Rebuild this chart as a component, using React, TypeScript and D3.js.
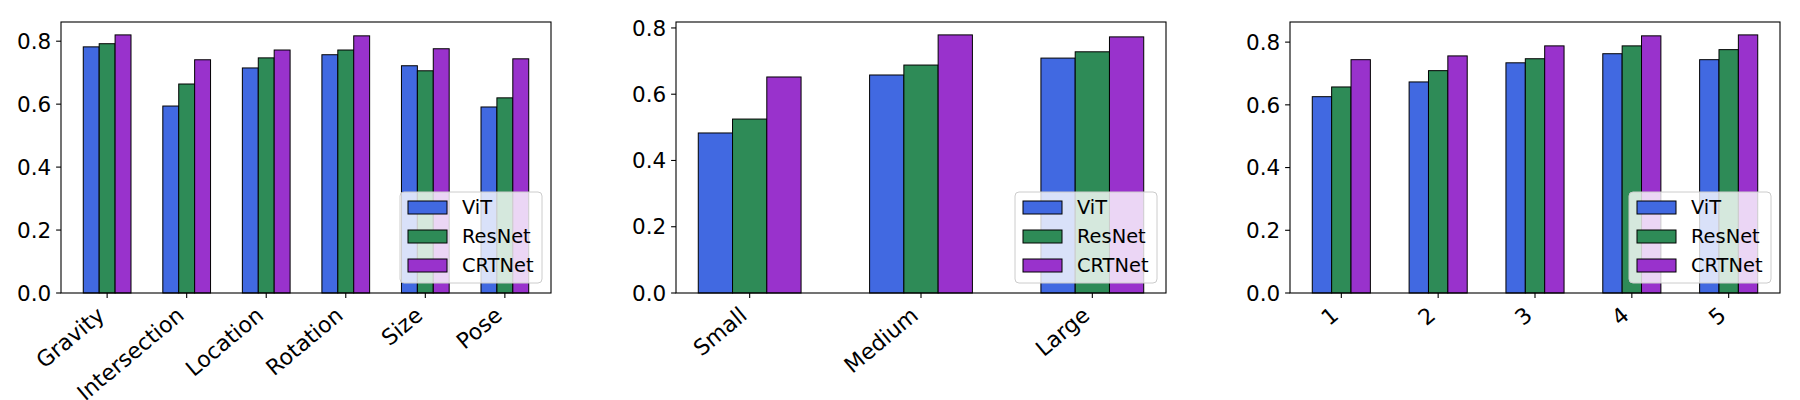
import * as d3 from 'd3';

const seriesNames = ['ViT', 'ResNet', 'CRTNet'];
const seriesColors = ['#4169e1', '#2e8b57', '#9932cc'];

const taskLabels = ['Gravity', 'Intersection', 'Location', 'Rotation', 'Size', 'Pose'];
const taskVit = [0.782, 0.594, 0.715, 0.757, 0.722, 0.591];
const taskResnet = [0.792, 0.664, 0.747, 0.772, 0.706, 0.62];
const taskCrtnet = [0.82, 0.741, 0.772, 0.817, 0.776, 0.744];

const sizeLabels = ['Small', 'Medium', 'Large'];
const sizeVit = [0.483, 0.658, 0.709];
const sizeResnet = [0.525, 0.688, 0.728];
const sizeCrtnet = [0.652, 0.779, 0.773];

const levelLabels = ['1', '2', '3', '4', '5'];
const levelVit = [0.626, 0.673, 0.734, 0.763, 0.744];
const levelResnet = [0.657, 0.709, 0.747, 0.788, 0.776];
const levelCrtnet = [0.744, 0.756, 0.788, 0.82, 0.823];

const W = 1800;
const H = 400;
const Y_FONT = 21.5;
const X_FONT = 22;
const LEG_FONT = 19.4;
const panelLeft = [61, 676, 1290];
const panelWidth = 490;
const top = 22;
const bottom = 293;
const barW = 0.2;
const tickLen = 4.9;
const tickPad = 4.9;
const rot = 40;

type PanelProps = {
  left: number;
  labels: string[];
  series: number[][];
};

function Panel({ left, labels, series }: PanelProps) {
  const n = labels.length;
  const lo = -1.5 * barW;
  const hi = n - 1 + 1.5 * barW;
  const mx = (hi - lo) * 0.05;
  const x = d3.scaleLinear().domain([lo - mx, hi + mx]).range([left, left + panelWidth]);
  const ymax = d3.max(series.flat()) as number;
  const y = d3.scaleLinear().domain([0, ymax * 1.05]).range([bottom, top]);
  const yTicks = y.ticks(5);
  const fmt = d3.format('.1f');

  // matplotlib-ish placement of rotated labels (ha=right, va=top)
  const s = Math.sin((rot * Math.PI) / 180);
  const c = Math.cos((rot * Math.PI) / 180);
  const asc = 0.76 * X_FONT;
  const desc = 0.23 * X_FONT;

  // legend, lower right
  const lgW = 142;
  const lgH = 91;
  const lgX = left + panelWidth - 9 - lgW;
  const lgY = bottom - 10 - lgH;

  return (
    <g>
      {series.map((vals, si) =>
        vals.map((v, i) => {
          const x0 = x(i + (si - 1) * barW - barW / 2);
          const x1 = x(i + (si - 1) * barW + barW / 2);
          return (
            <rect
              key={`${si}-${i}`}
              x={x0}
              y={y(v)}
              width={x1 - x0}
              height={y(0) - y(v)}
              fill={seriesColors[si]}
              stroke="#000"
              strokeWidth={1}
            />
          );
        })
      )}
      <rect x={left} y={top} width={panelWidth} height={bottom - top} fill="none" stroke="#000" strokeWidth={1.1} />
      {yTicks.map((t) => (
        <g key={t}>
          <line x1={left - tickLen} x2={left} y1={y(t)} y2={y(t)} stroke="#000" strokeWidth={1.1} />
          <text x={left - tickLen - tickPad} y={y(t)} dy="0.36em" textAnchor="end" fontSize={Y_FONT}>
            {fmt(t)}
          </text>
        </g>
      ))}
      {labels.map((lab, i) => {
        const tx = x(i);
        const ax = tx - desc * s + 2;
        const ay = bottom + tickLen + tickPad + asc * c + 2;
        return (
          <g key={lab}>
            <line x1={tx} x2={tx} y1={bottom} y2={bottom + tickLen} stroke="#000" strokeWidth={1.1} />
            <text x={ax} y={ay} textAnchor="end" fontSize={X_FONT} transform={`rotate(${-rot}, ${ax}, ${ay})`}>
              {lab}
            </text>
          </g>
        );
      })}
      <rect
        x={lgX}
        y={lgY}
        width={lgW}
        height={lgH}
        rx={4}
        fill="#fff"
        fillOpacity={0.8}
        stroke="#cccccc"
        strokeWidth={1}
      />
      {seriesNames.map((name, si) => {
        const cy = lgY + 15.5 + si * 29;
        return (
          <g key={name}>
            <rect
              x={lgX + 8}
              y={cy - 6.5}
              width={39}
              height={13}
              fill={seriesColors[si]}
              stroke="#000"
              strokeWidth={1}
            />
            <text x={lgX + 62} y={cy} dy="0.36em" fontSize={LEG_FONT}>
              {name}
            </text>
          </g>
        );
      })}
    </g>
  );
}

export default function App() {
  return (
    <div style={{ position: 'absolute', left: 0, top: 0 }}>
      <svg width={W} height={H} style={{ display: 'block', fontFamily: '"DejaVu Sans", sans-serif' }}>
        <rect width={W} height={H} fill="#fff" />
        <Panel left={panelLeft[0]} labels={taskLabels} series={[taskVit, taskResnet, taskCrtnet]} />
        <Panel left={panelLeft[1]} labels={sizeLabels} series={[sizeVit, sizeResnet, sizeCrtnet]} />
        <Panel left={panelLeft[2]} labels={levelLabels} series={[levelVit, levelResnet, levelCrtnet]} />
      </svg>
    </div>
  );
}
